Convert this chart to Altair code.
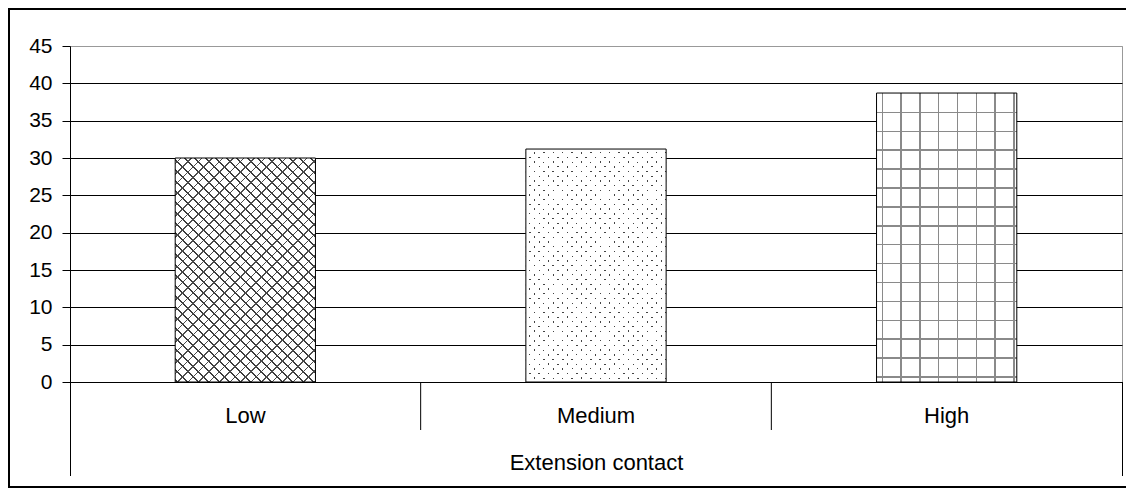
import altair as alt
import pandas as pd

categories = ["Low", "Medium", "High"]
values = [30.0, 31.2, 38.7]
y_ticks = [0, 5, 10, 15, 20, 25, 30, 35, 40, 45]

W, H = 1052, 336
YMAX = 45
BAND = 0.4
FONT = "Liberation Sans"

df = pd.DataFrame({"cat": categories, "value": values})
one = pd.DataFrame({"k": [0]})

x_scale = alt.Scale(domain=categories, paddingInner=0, paddingOuter=0)
y_scale = alt.Scale(domain=[0, YMAX], nice=False, zero=True)

bar_w = W / len(categories) * BAND


def bar_h(cat):
    return values[categories.index(cat)] * H / YMAX


def stripe_stops(length, start, period, thick, color, bg):
    stops = [alt.GradientStop(color=bg, offset=0)]
    pos = start
    while pos + thick < length:
        a = round(pos / length, 5)
        b = round((pos + thick) / length, 5)
        stops += [alt.GradientStop(color=bg, offset=a),
                  alt.GradientStop(color=color, offset=a),
                  alt.GradientStop(color=color, offset=b),
                  alt.GradientStop(color=bg, offset=b)]
        pos += period
    stops.append(alt.GradientStop(color=bg, offset=1))
    return stops


def grad(stops, x1, y1, x2, y2):
    return alt.LinearGradient(gradient="linear", stops=stops,
                              x1=x1, y1=y1, x2=x2, y2=y2)


def diag(w, h, period, thick, color, bg, start=0.0, rising=True):
    """45-degree stripes inside a w x h box (bounding-box gradient)."""
    s = (w + h) / (w * w + h * h)
    stops = stripe_stops(w + h, start, period, thick, color, bg)
    if rising:   # lines like "/"
        return grad(stops, 0, 0, w * s, h * s)
    return grad(stops, 0, 1, w * s, 1 - h * s)   # lines like "\"


CLEAR = "rgba(255,255,255,0)"

hl, hm, hh = bar_h("Low"), bar_h("Medium"), bar_h("High")

# Low: scale-like texture approximated with a 45-degree cross-hatch
low_a = diag(bar_w, hl, 10.5, 2.2, "#3c3c3c", "white", 1, rising=False)
low_b = diag(bar_w, hl, 10.5, 1.6, "#4c4c4c", CLEAR, 5, rising=True)
# Medium: staggered dots = dark "\" lines masked by white "/" bands
med_a = diag(bar_w, hm, 9.4, 1.8, "#444444", "white", 2, rising=False)
med_b = diag(bar_w, hm, 9.4, 7.6, "white", CLEAR, 3.8, rising=True)
# High: dotted grid
high_v = grad(stripe_stops(bar_w, 5.0, 18.8, 1.5, "#8a8a8a", "white"), 0, 0, 1, 0)
high_h = grad(stripe_stops(hh, 18.6, 18.9, 1.5, "#8a8a8a", CLEAR), 0, 0, 0, 1)

x_axis = alt.Axis(title="Extension contact", labelAngle=0, ticks=False,
                  domain=True, domainColor="black", domainWidth=1,
                  labelFont=FONT, labelFontSize=22, labelColor="black",
                  labelPadding=23, titleFont=FONT, titleFontSize=22,
                  titleFontWeight="normal", titleColor="black",
                  titlePadding=26)
y_axis = alt.Axis(values=y_ticks, title=None, grid=True,
                  gridColor=alt.condition("datum.value === 45",
                                          alt.value("#999999"),
                                          alt.value("black")),
                  gridOpacity=1, gridWidth=1,
                  tickSize=8, tickColor="black", tickWidth=1,
                  domainColor="black", domainWidth=1,
                  labelFont=FONT, labelFontSize=21, labelColor="black",
                  labelPadding=10)

base = alt.Chart(df).encode(
    x=alt.X("cat:N", sort=categories, scale=x_scale, axis=x_axis),
    y=alt.Y("value:Q", scale=y_scale, axis=y_axis),
)


def bar_layer(cat, fill):
    return base.transform_filter(alt.datum.cat == cat).mark_bar(
        width=alt.RelativeBandSize(BAND), fill=fill, strokeWidth=0
    )


bars = [
    bar_layer("Low", low_a),
    bar_layer("Low", low_b),
    bar_layer("Medium", med_a),
    bar_layer("Medium", med_b),
    bar_layer("High", high_v),
    bar_layer("High", high_h),
]

outline = base.mark_bar(width=alt.RelativeBandSize(BAND), fillOpacity=0,
                        stroke="black", strokeWidth=1)

seps = alt.Chart(df).transform_filter(alt.datum.cat != "Low").mark_rule(
    color="black", strokeWidth=1
).encode(
    x=alt.X("cat:N", sort=categories, scale=x_scale, bandPosition=0),
    y=alt.value(H),
    y2=alt.value(H + 48),
)

left_edge = alt.Chart(one).mark_rule(color="black", strokeWidth=1).encode(
    x=alt.value(0.5), y=alt.value(H), y2=alt.value(H + 94)
)
right_edge = alt.Chart(one).mark_rule(color="black", strokeWidth=1).encode(
    x=alt.value(W + 0.5), y=alt.value(H), y2=alt.value(H + 94)
)

frame_top = alt.Chart(one).mark_rule(color="black", strokeWidth=2).encode(
    x=alt.value(-62), x2=alt.value(W + 30), y=alt.value(-37)
)
frame_left = alt.Chart(one).mark_rule(color="black", strokeWidth=2).encode(
    x=alt.value(-61), y=alt.value(-38), y2=alt.value(H + 106)
)
frame_bottom = alt.Chart(one).mark_rule(color="black", strokeWidth=2).encode(
    x=alt.value(-62), x2=alt.value(W + 4), y=alt.value(H + 105)
)

chart = alt.layer(
    frame_top, frame_left, frame_bottom, *bars, outline, seps, left_edge, right_edge
).properties(
    width=W, height=H,
    autosize=alt.AutoSizeParams(type="none"),
    padding={"left": 62, "top": 38, "right": 4, "bottom": 107},
    background="white",
).configure_view(stroke="#999999", strokeWidth=1)

chart.save("out.html", embed_options={"renderer": "svg", "actions": False})
